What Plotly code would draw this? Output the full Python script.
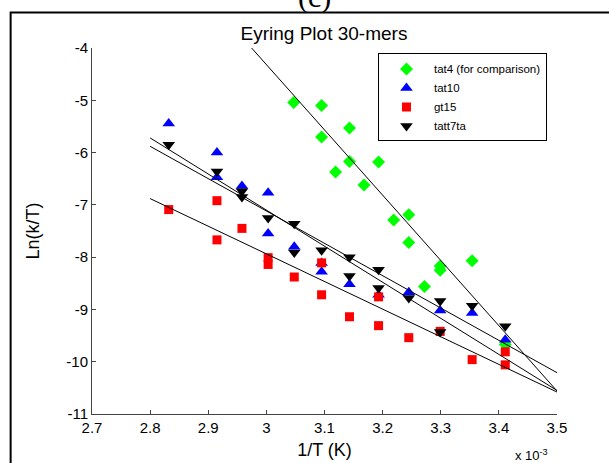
import plotly.graph_objects as go

# ---- data (x in units of 1e-3 1/K) ----
tat4_x = [3.047, 3.095, 3.095, 3.119, 3.143, 3.143, 3.168, 3.193, 3.219, 3.245, 3.245, 3.272, 3.299, 3.299, 3.354, 3.411]
tat4_y = [-5.04, -5.10, -5.70, -6.37, -5.53, -6.17, -6.62, -6.18, -7.29, -7.19, -7.72, -8.56, -8.17, -8.25, -8.07, -9.67]

tat10_x = [2.832, 2.915, 2.915, 2.958, 3.003, 3.003, 3.048, 3.095, 3.095, 3.143, 3.193, 3.245, 3.299, 3.354, 3.411]
tat10_y = [-5.445, -6.00, -6.47, -6.64, -6.77, -7.55, -7.80, -8.11, -8.28, -8.52, -8.72, -8.67, -9.02, -9.07, -9.58]

gt15_x = [2.832, 2.915, 2.915, 2.958, 3.003, 3.003, 3.048, 3.095, 3.095, 3.143, 3.193, 3.193, 3.245, 3.299, 3.354, 3.411, 3.411]
gt15_y = [-7.09, -6.92, -7.67, -7.45, -8.01, -8.14, -8.38, -8.11, -8.72, -9.14, -8.76, -9.31, -9.54, -9.42, -9.96, -9.81, -10.06]

tatt7ta_x = [2.832, 2.915, 2.958, 2.958, 3.003, 3.048, 3.048, 3.095, 3.143, 3.143, 3.193, 3.193, 3.245, 3.299, 3.299, 3.354, 3.411]
tatt7ta_y = [-5.85, -6.36, -6.74, -6.85, -7.25, -7.36, -7.91, -7.87, -8.00, -8.36, -8.24, -8.59, -8.78, -8.84, -9.43, -8.93, -9.32]

# fitted lines (values at the two ends of the fit range)
fit_x = [2.8, 3.5]
fit_tat4 = [-1.82, -10.56]
fit_tat10 = [-5.72, -10.55]
fit_gt15 = [-6.88, -10.58]
fit_tatt7ta = [-5.88, -10.21]

x_ticks = [2.7, 2.8, 2.9, 3.0, 3.1, 3.2, 3.3, 3.4, 3.5]
y_ticks = [-11, -10, -9, -8, -7, -6, -5, -4]

FONT = "Arial, Liberation Sans, Helvetica, sans-serif"

fig = go.Figure()

series = [
    ("tat4 (for comparison)", tat4_x, tat4_y, "diamond", "#00ff00", 10),
    ("tat10", tat10_x, tat10_y, "triangle-up", "#0000ff", 11),
    ("gt15", gt15_x, gt15_y, "square", "#ff0000", 9),
    ("tatt7ta", tatt7ta_x, tatt7ta_y, "triangle-down", "#000000", 11),
]
for name, xs, ys, sym, col, sz in series:
    fig.add_trace(go.Scatter(
        x=xs, y=ys, mode="markers", name=name,
        marker=dict(symbol=sym, color=col, size=sz, line=dict(width=0)),
    ))

for fy in [fit_tat4, fit_tat10, fit_gt15, fit_tatt7ta]:
    fig.add_trace(go.Scatter(
        x=fit_x, y=fy, mode="lines", showlegend=False, hoverinfo="skip",
        line=dict(color="#000000", width=1),
    ))

axis_common = dict(
    showline=True, linecolor="#444444", linewidth=1,
    ticks="inside", ticklen=4, tickcolor="#444444", tickwidth=1,
    showgrid=False, zeroline=False, mirror=False, automargin=False,
    tickfont=dict(family=FONT, size=15, color="#000000"),
)

fig.update_xaxes(
    range=[2.7, 3.5], tickvals=x_ticks, ticktext=[f"{v:g}" for v in x_ticks],
    title=dict(text="1/T (K)", font=dict(family=FONT, size=18, color="#000000"), standoff=8),
    **axis_common,
)
fig.update_yaxes(
    range=[-11, -4], tickvals=y_ticks, ticktext=[f"{v:g}" for v in y_ticks],
    title=dict(text="Ln(k/T)", font=dict(family=FONT, size=18, color="#000000"), standoff=22),
    **axis_common,
)

fig.update_layout(
    width=609, height=463,
    margin=dict(l=92, r=52, t=48, b=49, autoexpand=False),
    paper_bgcolor="white", plot_bgcolor="white",
    font=dict(family=FONT, color="#000000"),
    title=dict(text="Eyring Plot 30-mers", x=0.532, xref="container", xanchor="center",
               y=0.929, yref="container", yanchor="middle",
               font=dict(family=FONT, size=19, color="#000000"), pad=dict(b=0, t=0, l=0, r=0)),
    legend=dict(
        x=0.615, y=0.985, xanchor="left", yanchor="top",
        bordercolor="#000000", borderwidth=1, bgcolor="white",
        font=dict(family=FONT, size=11.5, color="#000000"),
        itemwidth=45, tracegroupgap=0,
    ),
    showlegend=True,
    shapes=[dict(type="rect", xref="paper", yref="paper",
                 x0=-0.175, x1=1.3, y0=-0.3, y1=1.097,
                 line=dict(color="#000000", width=2), fillcolor="rgba(0,0,0,0)", layer="below")],
    annotations=[
        dict(text="x 10<sup>-3</sup>", xref="paper", yref="paper", x=0.946, y=-0.112,
             xanchor="center", yanchor="middle", showarrow=False,
             font=dict(family=FONT, size=13, color="#000000")),
        dict(text="(c)", xref="paper", yref="paper", x=0.4785, y=1.087,
             xanchor="center", yanchor="bottom", showarrow=False,
             font=dict(family="Liberation Serif, Times New Roman, serif", size=30, color="#000000")),
    ],
)

fig.write_html("out.html")
